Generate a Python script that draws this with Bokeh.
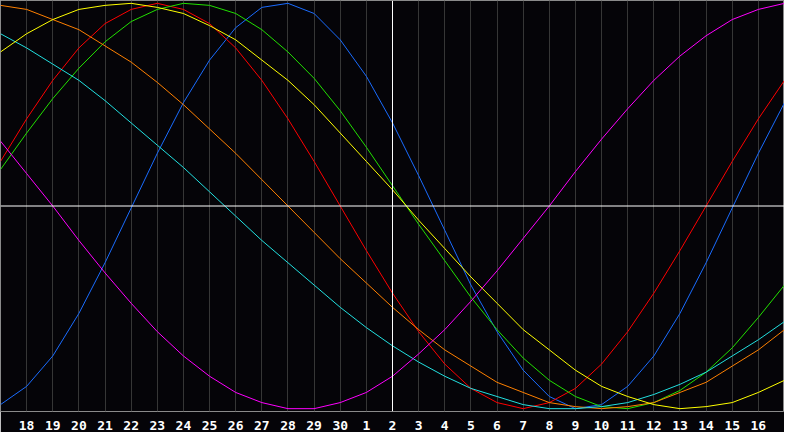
from bokeh.plotting import figure
from bokeh.models import Range1d, FixedTicker, Span
from bokeh.embed import file_html
from bokeh.resources import INLINE

# Days shown (index 0 .. 30); labels at indices 1..29
days = [17, 18, 19, 20, 21, 22, 23, 24, 25, 26, 27, 28, 29, 30,
        1, 2, 3, 4, 5, 6, 7, 8, 9, 10, 11, 12, 13, 14, 15, 16, 17]
today_index = 15  # day "2"

# Curve values (percent, -100..100) read at each day
red = [22, 43, 62, 78, 90, 97, 100, 97, 90, 78, 62, 43, 22, 0, -22, -43,
       -62, -78, -90, -97, -100, -97, -90, -78, -62, -43, -22, 0, 22, 43, 62]
blue = [-98, -89, -74, -53, -28, -1, 26, 51, 72, 88, 98, 100, 95, 82, 64, 41,
        15, -12, -39, -62, -81, -94, -100, -98, -89, -74, -53, -28, -1, 26, 51]
green = [18, 36, 53, 68, 81, 91, 97, 100, 99, 95, 87, 76, 63, 47, 29, 10,
         -9, -27, -45, -61, -75, -86, -94, -99, -100, -97, -91, -82, -70, -55, -39]
yellow = [76, 85, 92, 97, 99, 100, 98, 95, 89, 82, 72, 62, 50, 36, 22, 8,
          -7, -21, -35, -48, -61, -71, -81, -89, -94, -98, -100, -99, -97, -92, -86]
orange = [99, 97, 92, 87, 79, 71, 61, 50, 38, 26, 13, 0, -13, -26, -38, -50,
          -61, -71, -79, -87, -92, -97, -99, -100, -99, -97, -92, -87, -79, -71, -61]
cyan = [85, 78, 70, 62, 52, 41, 30, 19, 7, -5, -17, -28, -39, -50, -60, -69,
        -77, -84, -90, -94, -98, -100, -100, -99, -97, -93, -88, -82, -74, -66, -57]
magenta = [32, 16, 0, -17, -33, -48, -62, -74, -84, -92, -97, -100, -100, -97, -92, -84,
           -73, -61, -47, -32, -16, 0, 17, 33, 48, 62, 74, 84, 92, 97, 100]

series = [
    (blue, "#1a6cff"),
    (red, "#ff0000"),
    (green, "#22e000"),
    (orange, "#ff8000"),
    (cyan, "#22e0e0"),
    (yellow, "#ffff00"),
    (magenta, "#ff00ff"),
]

x = list(range(len(days)))
tick_idx = x[1:-1]
tick_labels = {i: str(days[i]) for i in tick_idx}

BG = "#050408"
p = figure(width=784, height=432, output_backend="svg", toolbar_location=None,
           x_range=Range1d(0, len(days) - 1), y_range=Range1d(-101.4, 101.4),
           min_border_left=0, min_border_right=0, min_border_top=0, min_border_bottom=0)
p.background_fill_color = BG
p.border_fill_color = BG
p.outline_line_color = "#8a8a8a"
p.outline_line_width = 1

p.yaxis.visible = False
p.ygrid.visible = False

p.xaxis.ticker = FixedTicker(ticks=tick_idx)
p.xaxis.major_label_overrides = tick_labels
p.xaxis.axis_line_color = None
p.xaxis.major_tick_line_color = None
p.xaxis.minor_tick_line_color = None
p.xaxis.major_label_text_color = "white"
p.xaxis.major_label_text_font = "DejaVu Sans Mono"
p.xaxis.major_label_text_font_style = "bold"
p.xaxis.major_label_text_font_size = "13px"
p.xaxis.major_label_standoff = 3

p.xgrid.ticker = FixedTicker(ticks=tick_idx)
p.xgrid.grid_line_color = "#363636"
p.xgrid.grid_line_width = 1

p.add_layout(Span(location=today_index, dimension="height", line_color="white", line_width=1))
p.add_layout(Span(location=0, dimension="width", line_color="white", line_width=1))

for vals, col in series:
    p.line(x, vals, line_color=col, line_width=1)

open("out.html", "w").write(file_html(p, INLINE))
